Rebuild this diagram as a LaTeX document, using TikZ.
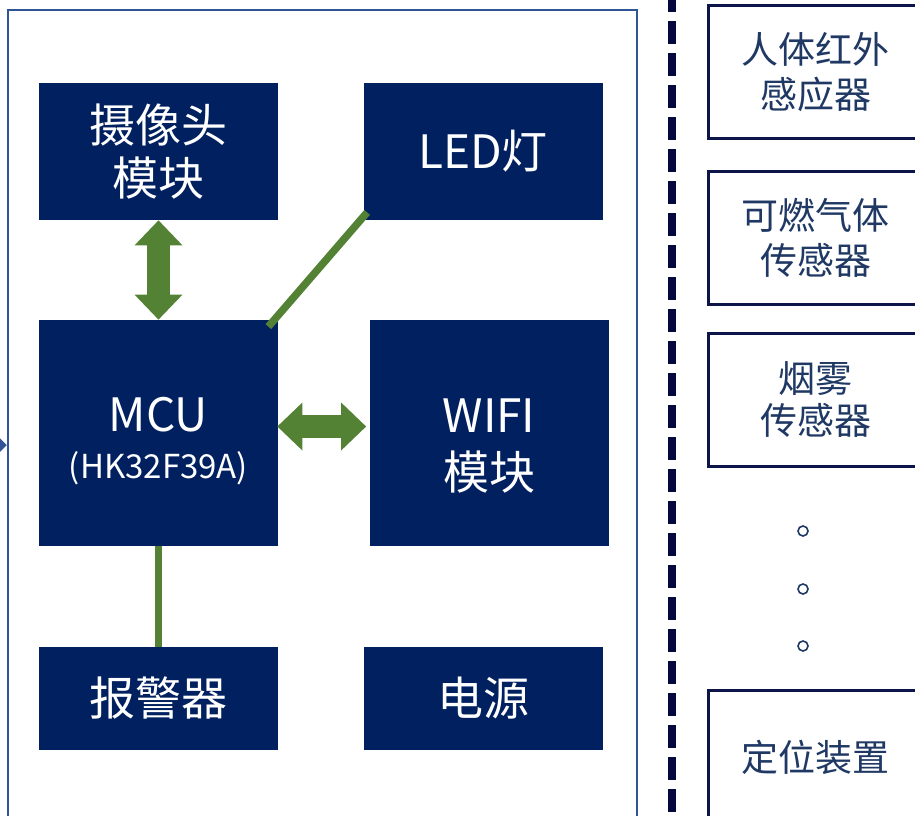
\documentclass[tikz,border=0pt]{standalone}
\usepackage{fontspec}
\setmainfont{Noto Sans CJK SC}
\usetikzlibrary{arrows.meta,calc}

\definecolor{navyfill}{RGB}{0,32,96}
\definecolor{wiregreen}{RGB}{84,130,53}
\definecolor{framecol}{RGB}{47,85,151}
\definecolor{dashcol}{RGB}{5,8,60}
\definecolor{sensorline}{RGB}{12,20,72}
\definecolor{sensortext}{RGB}{31,56,100}

\tikzset{every picture/.style={line width=0.75pt}}
\tikzset{
  mainbox/.style={fill=navyfill, text=white, inner sep=0pt, align=center,
    minimum width=239pt, font=\fontsize{46}{53}\selectfont},
  boxtext/.style={text=white, inner sep=0pt, align=center, font=\fontsize{46}{53}\selectfont},
  sensorbox/.style={draw=sensorline, line width=3pt, fill=white, text=sensortext,
    inner sep=0pt, align=center, minimum width=215pt, minimum height=133pt,
    font=\fontsize{37}{45}\selectfont},
  framebox/.style={draw=framecol, line width=2.5pt, inner sep=0pt},
  fatarrow/.style={draw=wiregreen, line width=23pt,
    {Triangle[length=25pt,width=48pt,line width=0pt]}-{Triangle[length=25pt,width=48pt,line width=0pt]}},
  wire/.style={draw=wiregreen, line width=7.5pt},
  feed/.style={draw=framecol, line width=2.5pt, -{Triangle[length=11pt,width=22pt,line width=0pt]}},
  dashline/.style={draw=dashcol, line width=8pt, dash pattern=on 23pt off 9pt},
  dot/.style={circle, draw=sensortext, line width=1.6pt, minimum size=10pt, inner sep=0pt}
}

\begin{document}
\begin{tikzpicture}[x=1pt,y=1pt,yscale=-1,xscale=1]
\clip (0,0) rectangle (915,816);

%Shape: Rectangle [id:frame] 
\node[framebox, minimum width=629pt, minimum height=830pt] (frame) at (322.5,425) {};
%Straight Lines [id:inlet] 
\coordinate (inlet) at (-40,445);
\draw[feed] (inlet) -- (inlet -| frame.west);

% Text Node
\node[mainbox, minimum height=137pt] (cam) at (158.5,151.5) {摄像头\\模块};
% Text Node
\node[mainbox, minimum height=137pt] (led) at (483,151.5) {LED灯};
%Shape: Rectangle [id:mcu] 
\node[mainbox, minimum height=226pt] (mcu) at (158.5,433) {};
% Text Node
\node[boxtext] (mcutext) at ($(mcu)+(0,8)$) {MCU\\[-6pt]{\fontsize{33}{40}\selectfont (HK32F39A)}};
%Shape: Rectangle [id:wifi] 
\node[mainbox, minimum height=226pt] (wifi) at (489,433) {};
% Text Node
\node[boxtext] (wifitext) at ($(wifi)+(0,13)$) {WIFI\\[4pt]模块};
% Text Node
\node[mainbox, minimum height=103pt] (alarm) at (158.5,698.5) {报警器};
% Text Node
\node[mainbox, minimum height=103pt] (power) at (483,698) {电源};

%Straight Lines [id:cam-mcu] 
\draw[fatarrow] (cam.south) -- (mcu.north);
%Straight Lines [id:mcu-wifi] 
\draw[fatarrow] ($(mcu.east)+(-1,-6.5)$) -- ($(wifi.west)+(-3,-6.5)$);
%Straight Lines [id:mcu-led] 
\draw[wire] ($(mcu.north east)+(-10,7)$) -- ($(led.south west)+(4,-8)$);
%Straight Lines [id:mcu-alarm] 
\draw[wire] (mcu.south) -- (alarm.north);

%Straight Lines [id:divider] 
\draw[dashline] (672,-11) -- (672,830);

% Text Node
\node[sensorbox] (pir) at (815.5,72) {人体红外\\感应器};
% Text Node
\node[sensorbox] (gas) at (815.5,238) {可燃气体\\传感器};
% Text Node
\node[sensorbox] (smoke) at (815.5,400) {烟雾\\[-3pt]传感器};
% Text Node
\node[sensorbox] (gps) at (815.5,757) {定位装置};

%Shape: Circle 
\node[dot] (dot1) at (803,531) {};
\node[dot] (dot2) at (803,589) {};
\node[dot] (dot3) at (803,646) {};

\end{tikzpicture}
\end{document}
